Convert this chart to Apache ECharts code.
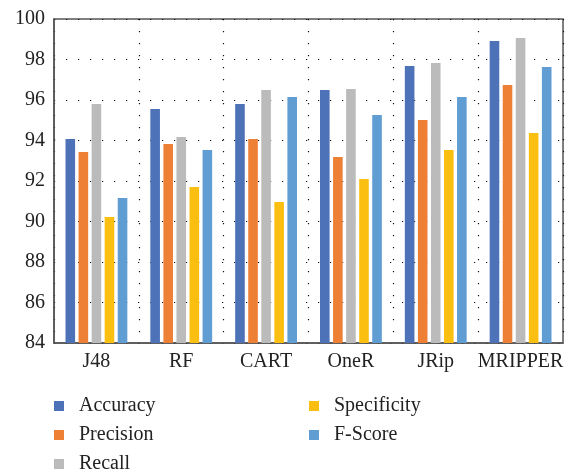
<!DOCTYPE html>
<html>
<head>
<meta charset="utf-8">
<script src="https://cdn.jsdelivr.net/npm/echarts@6/dist/echarts.min.js"></script>
<style>
  html, body { margin: 0; padding: 0; background: #fff; }
  #chart { width: 575px; height: 472px; }
</style>
</head>
<body>
<div id="chart"></div>
<script>
// Classifier comparison: five metrics per model (%)
const categories = ['J48', 'RF', 'CART', 'OneR', 'JRip', 'MRIPPER'];
const accuracy    = [94.07, 95.56, 95.80, 96.49, 97.68, 98.91];
const precision   = [93.43, 93.83, 94.07, 93.19, 95.01, 96.74];
const recall      = [95.80, 94.17, 96.49, 96.54, 97.83, 99.06];
const specificity = [90.22, 91.70, 90.96, 92.10, 93.53, 94.37];
const fScore      = [91.16, 93.53, 96.15, 95.26, 96.15, 97.63];
const yTicks = [84, 86, 88, 90, 92, 94, 96, 98, 100];

const seriesDefs = [
  { name: 'Accuracy',    data: accuracy,    color: '#4D72B8' },
  { name: 'Precision',   data: precision,   color: '#EE8035' },
  { name: 'Recall',      data: recall,      color: '#BBBBBB' },
  { name: 'Specificity', data: specificity, color: '#FBBF12' },
  { name: 'F-Score',     data: fScore,      color: '#5F9DD3' }
];

const serif = '"Liberation Serif", "DejaVu Serif", serif';
const dotted = { color: '#111', width: 1.2, type: [1.2, 10.8] };

const legendText = { fontFamily: serif, fontSize: 20, color: '#222', padding: [0, 0, 0, 10] };

const chart = echarts.init(document.getElementById('chart'));
chart.setOption({
  animation: false,
  grid: {
    left: 54, right: 12, top: 19, bottom: 129,
    show: true, borderColor: '#555', borderWidth: 1.5, backgroundColor: 'transparent'
  },
  legend: [
    {
      data: ['Accuracy', 'Precision', 'Recall'],
      orient: 'vertical', left: 49, top: 391, height: 120,
      itemWidth: 10, itemHeight: 10, itemGap: 9,
      icon: 'rect',
      textStyle: legendText
    },
    {
      data: ['Specificity', 'F-Score'],
      orient: 'vertical', left: 304, top: 391, height: 120,
      itemWidth: 10, itemHeight: 10, itemGap: 9,
      icon: 'rect',
      textStyle: legendText
    }
  ],
  xAxis: {
    type: 'category',
    data: categories,
    axisLine: { show: true, lineStyle: { color: '#555', width: 1.5 } },
    axisTick: { show: false },
    splitLine: { show: true, lineStyle: dotted },
    axisLabel: { interval: 0, fontFamily: serif, fontSize: 20, color: '#222', margin: 9 }
  },
  yAxis: {
    type: 'value',
    min: yTicks[0], max: yTicks[yTicks.length - 1], interval: 2,
    axisLine: { show: true, lineStyle: { color: '#555', width: 1.5 } },
    axisTick: { show: false },
    splitLine: { show: true, lineStyle: dotted },
    axisLabel: { fontFamily: serif, fontSize: 20, color: '#222', margin: 9 }
  },
  series: seriesDefs.map(s => ({
    name: s.name,
    type: 'bar',
    data: s.data,
    barWidth: 9.6,
    barGap: '36%',
    itemStyle: { color: s.color }
  }))
});
</script>
</body>
</html>
